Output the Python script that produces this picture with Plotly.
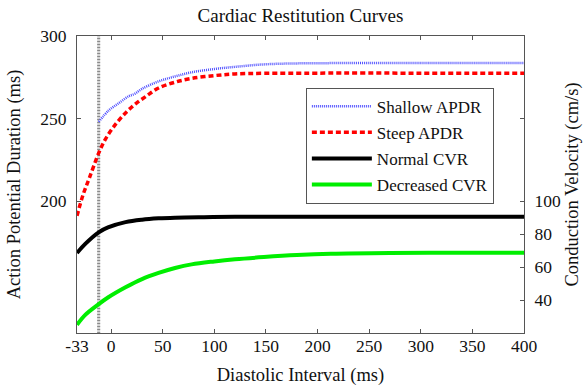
import plotly.graph_objects as go

# ---- data ----
steep_di = [-33, -27, -21, -12, -5, 5, 15, 24, 34, 46, 62, 78, 100, 120, 150, 200, 300, 400]
steep_apd = [191, 204, 214, 229, 238, 247, 254, 259, 263.5, 268.5, 272, 274.3, 276, 277, 277.4, 277.5, 277.5, 277.5]

shallow_di = [-12, -2, 8, 17, 23, 30, 46, 62, 78, 100, 120, 148, 180, 250, 300, 400]
shallow_apd = [248, 255, 259.5, 263.5, 265, 268, 272.5, 275.5, 278, 280, 281.3, 282.8, 283.4, 283.6, 283.6, 283.6]

normal_di = [-33, -25, -12, -3, 14, 30, 46, 62, 90, 120, 200, 300, 400]
normal_cv = [68.5, 74, 81, 84, 87.2, 88.7, 89.5, 89.9, 90.2, 90.4, 90.5, 90.5, 90.5]

decreased_di = [-33, -25, -12, -3, 14, 30, 46, 62, 78, 100, 120, 148, 180, 213, 270, 350, 400]
decreased_cv = [25, 31, 37.5, 41.5, 47.7, 52.7, 56.4, 59.4, 61.6, 63.4, 64.7, 66, 67.2, 68, 68.5, 68.6, 68.6]

marker_di = -12  # vertical dotted reference line

x_ticks = [-33, 0, 50, 100, 150, 200, 250, 300, 350, 400]
apd_ticks = [200, 250, 300]
cv_ticks = [40, 60, 80, 100]

FONT = "Liberation Serif, Times New Roman, serif"
TXT = "#111111"

fig = go.Figure()

fig.add_trace(go.Scatter(x=shallow_di, y=shallow_apd, name="Shallow APDR", mode="lines",
                         line=dict(color="#5050ff", width=2.5, dash="1px,1px", shape="spline"),
                         legendgroup="a"))
fig.add_trace(go.Scatter(x=steep_di, y=steep_apd, name="Steep APDR", mode="lines",
                         line=dict(color="#ff0000", width=3.5, dash="5px,3px", shape="spline"),
                         legendgroup="b"))
fig.add_trace(go.Scatter(x=normal_di, y=normal_cv, name="Normal CVR", mode="lines", yaxis="y2",
                         line=dict(color="#000000", width=4, shape="spline"),
                         legendgroup="c"))
fig.add_trace(go.Scatter(x=decreased_di, y=decreased_cv, name="Decreased CVR", mode="lines", yaxis="y2",
                         line=dict(color="#00ee00", width=4, shape="spline"),
                         legendgroup="d"))

# vertical dotted line
fig.add_shape(type="line", xref="x", yref="paper", x0=marker_di, x1=marker_di, y0=0, y1=1,
              line=dict(color="#d4d4d4", width=3), layer="below")
fig.add_shape(type="line", xref="x", yref="paper", x0=marker_di, x1=marker_di, y0=0, y1=1,
              line=dict(color="#8a8a8a", width=3, dash="1px,2px"), layer="below")

axis_common = dict(showgrid=False, zeroline=False, showline=True, linecolor="#555555", linewidth=1,
                   ticks="inside", ticklen=4, tickcolor="#555555", automargin=False,
                   tickfont=dict(family=FONT, size=17.5, color=TXT))

fig.update_layout(
    width=583, height=386,
    margin=dict(l=77, r=59, t=36, b=53, autoexpand=False),
    paper_bgcolor="white", plot_bgcolor="white",
    font=dict(family=FONT, size=17, color=TXT),
    title=dict(text="Cardiac Restitution Curves", x=0.5, xref="paper", xanchor="center",
               y=0.961, yanchor="middle", font=dict(family=FONT, size=19, color=TXT)),
    xaxis=dict(range=[-33, 400], tickvals=x_ticks, ticktext=[str(v) for v in x_ticks],
               mirror="ticks", ticklabelstandoff=-3,
               title=dict(text="Diastolic Interval (ms)", font=dict(family=FONT, size=18.5), standoff=18),
               **axis_common),
    yaxis=dict(range=[120, 300], tickvals=apd_ticks, mirror="ticks", ticklabelstandoff=6,
               title=dict(text="Action Potential Duration (ms)", font=dict(family=FONT, size=18.5), standoff=14),
               **axis_common),
    yaxis2=dict(range=[20, 200], tickvals=cv_ticks, overlaying="y", side="right", ticklabelstandoff=6,
                title=dict(text="Conduction Velocity (cm/s)", font=dict(family=FONT, size=18.5), standoff=11),
                **axis_common),
    legend=dict(x=0.512, y=0.826, xanchor="left", yanchor="top",
                bgcolor="white", bordercolor="#555555", borderwidth=1,
                font=dict(family=FONT, size=17, color=TXT),
                tracegroupgap=1, itemwidth=60),
    showlegend=True,
)

fig.write_html("out.html", config={"displayModeBar": False},
               post_script="document.body.style.margin='0';document.body.style.padding='0';")
